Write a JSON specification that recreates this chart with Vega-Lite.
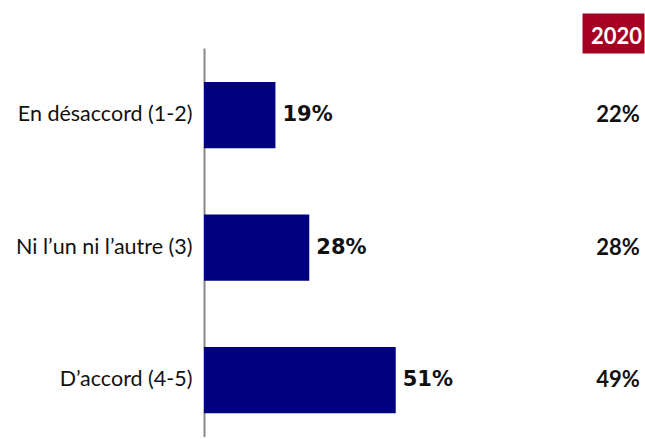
{
  "$schema": "https://vega.github.io/schema/vega-lite/v6.json",
  "autosize": {"type": "none"},
  "padding": {"left": 204, "top": 48, "right": 0, "bottom": 0},
  "width": 441,
  "height": 389,
  "background": "white",
  "config": {"view": {"stroke": null}},
  "data": {
    "values": [
      {"category": "En désaccord (1-2)", "value": 19, "label": "19%", "v2020": "22%"},
      {"category": "Ni l’un ni l’autre (3)", "value": 28, "label": "28%", "v2020": "28%"},
      {"category": "D’accord (4-5)", "value": 51, "label": "51%", "v2020": "49%"}
    ]
  },
  "encoding": {
    "y": {
      "field": "category",
      "type": "nominal",
      "sort": null,
      "scale": {"paddingInner": 0.5, "paddingOuter": 0.218, "align": 0.59},
      "axis": {
        "title": null,
        "ticks": false,
        "domainColor": "#888888",
        "domainWidth": 2,
        "labelFont": "Lato",
        "labelFontSize": 21.5,
        "labelColor": "#111111",
        "labelPadding": 12,
        "labelLimit": 300
      }
    }
  },
  "layer": [
    {
      "mark": {"type": "bar", "color": "#000080"},
      "encoding": {
        "x": {
          "field": "value",
          "type": "quantitative",
          "scale": {"domain": [0, 117.3], "nice": false, "zero": true},
          "axis": {
            "orient": "top",
            "title": null,
            "values": [108.8],
            "labelExpr": "'2020'",
            "domain": false,
            "grid": false,
            "ticks": true,
            "tickSize": 40,
            "tickWidth": 62,
            "tickCap": "butt",
            "tickColor": "#A50021",
            "offset": -5,
            "labelColor": "white",
            "labelFont": "Lato",
            "labelFontWeight": "bold",
            "labelFontSize": 22,
            "labelBaseline": "alphabetic",
            "labelPadding": -30,
            "labelOffset": 3,
            "labelFlush": false,
            "labelOverlap": false
          }
        }
      }
    },
    {
      "mark": {"type": "text", "align": "left", "baseline": "middle", "dx": 7, "font": "DejaVu Sans", "fontWeight": "bold", "fontSize": 21, "color": "#111111"},
      "encoding": {
        "x": {"field": "value", "type": "quantitative"},
        "text": {"field": "label"}
      }
    },
    {
      "mark": {"type": "text", "align": "center", "baseline": "middle", "font": "Lato", "fontWeight": "bold", "fontSize": 22, "color": "#111111"},
      "encoding": {
        "x": {"datum": 110.1, "type": "quantitative"},
        "text": {"field": "v2020"}
      }
    }
  ]
}
